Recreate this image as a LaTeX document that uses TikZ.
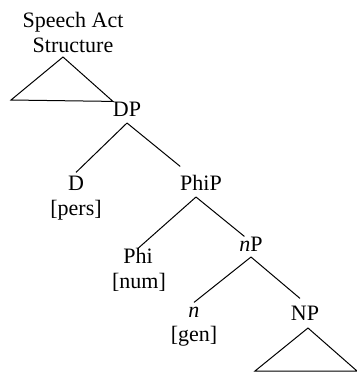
\documentclass[tikz,border=0pt]{standalone}
\usepackage{fontspec}
\setmainfont{Liberation Serif}
\begin{document}
\begin{tikzpicture}[x=0.5pt,y=-0.5pt,line width=0.5pt,
  lab/.style={inner sep=0pt,outer sep=0pt,text height=7.3pt,text depth=0pt,anchor=base,font=\fontsize{11}{12.5}\selectfont}]
\useasboundingbox (0,0) rectangle (357,372);
\node[font=\fontsize{11}{12.5}\selectfont,align=center,inner sep=0pt,anchor=south] (SA) at (73,53) {Speech Act\\Structure};
\node[lab] (DP) at (127,116) {DP};
\node[lab] (D) at (76,190) {D};
\node[lab] (Dfeat) at (76,215) {[pers]};
\node[lab] (PhiP) at (201,190) {PhiP};
\node[lab] (Phi) at (138,263) {Phi};
\node[lab] (Phifeat) at (139,288) {[num]};
\node[lab] (nP) at (251,251) {\textit{n}P};
\node[lab] (n) at (194,317) {\textit{n}};
\node[lab] (nfeat) at (194,341) {[gen]};
\node[lab] (NP) at (305,320) {NP};
\draw ([xshift=-5pt,yshift=-2pt]SA.south) -- ++(-52,43) -- (DP.north west) -- cycle;
\draw ([yshift=-3.5pt]DP.south) -- ([yshift=1.5pt]D.north);
\draw ([yshift=-3.5pt]DP.south) -- ([yshift=4.5pt]PhiP.north west);
\draw ([xshift=-2.5pt,yshift=-3.5pt]PhiP.south) -- (Phi.north);
\draw ([xshift=-2.5pt,yshift=-3.5pt]PhiP.south) -- ([xshift=2.5pt]nP.north west);
\draw ([yshift=-3pt]nP.south) -- (n.north);
\draw ([yshift=-3pt]nP.south) -- ([xshift=-2.5pt,yshift=3.5pt]NP.north);
\draw ([xshift=1.5pt,yshift=-4pt]NP.south) -- ++(-53,43) -- ++(102,0) -- cycle;
\end{tikzpicture}
\end{document}
